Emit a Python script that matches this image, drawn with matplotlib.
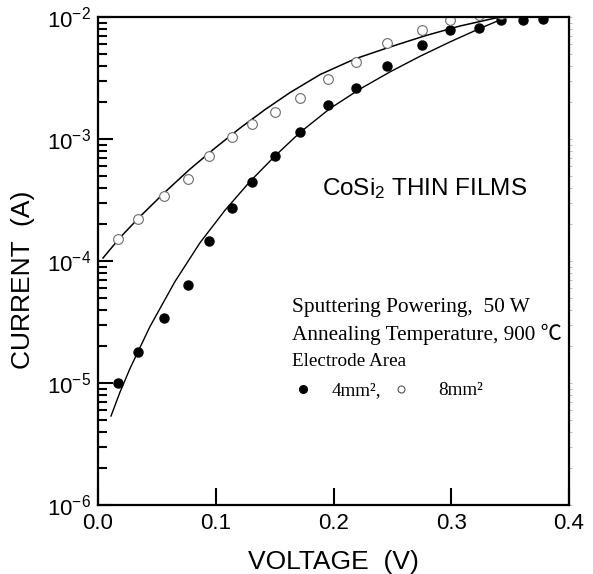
import matplotlib
matplotlib.use("Agg")
import matplotlib.pyplot as plt
from matplotlib.ticker import LogLocator, FixedLocator, NullFormatter, LogFormatterSciNotation

plt.rcParams['font.family'] = ['Liberation Sans', 'DejaVu Sans']
plt.rcParams['mathtext.fontset'] = 'custom'
plt.rcParams['mathtext.rm'] = 'Liberation Sans'
plt.rcParams['mathtext.it'] = 'Liberation Sans:italic'
plt.rcParams['mathtext.bf'] = 'Liberation Sans:bold'

# Measured I-V points (V in volts, I in amperes)
voltage = [0.0167, 0.0337, 0.0563, 0.0767, 0.0946, 0.114, 0.131, 0.1506, 0.1716,
           0.1956, 0.2188, 0.2452, 0.2749, 0.299, 0.3236, 0.342, 0.3607, 0.3777]
current_4mm2 = [1.0e-5, 1.79e-5, 3.4e-5, 6.4e-5, 1.45e-4, 2.7e-4, 4.45e-4, 7.2e-4, 1.15e-3,
                1.9e-3, 2.6e-3, 4.0e-3, 5.9e-3, 7.8e-3, 8.2e-3, 9.5e-3, 9.5e-3, 9.7e-3]
voltage_8mm2 = voltage[:16]
current_8mm2 = [1.51e-4, 2.2e-4, 3.4e-4, 4.7e-4, 7.3e-4, 1.03e-3, 1.33e-3, 1.66e-3, 2.15e-3,
                3.1e-3, 4.3e-3, 6.15e-3, 7.8e-3, 9.4e-3, 1.04e-2, 1.05e-2]

# Fitted curves
fit_v_4mm2 = [0.01104, 0.01868, 0.02718, 0.04416, 0.06539, 0.08662, 0.10786, 0.12909,
              0.15032, 0.17155, 0.19703, 0.22251, 0.24798, 0.27346, 0.29894, 0.32442, 0.34735]
fit_i_4mm2 = [5.36e-6, 8.42e-6, 1.315e-5, 2.904e-5, 6.79e-5, 1.411e-4, 2.606e-4, 4.484e-4,
              7.255e-4, 1.131e-3, 1.778e-3, 2.569e-3, 3.548e-3, 4.763e-3, 6.25e-3, 8.065e-3, 1.0e-2]
fit_v_8mm2 = [0.00425, 0.01868, 0.03567, 0.0569, 0.07813, 0.09936, 0.12059, 0.14183,
              0.16306, 0.18854, 0.21826, 0.24798, 0.27771, 0.30743, 0.3414]
fit_i_8mm2 = [1.058e-4, 1.555e-4, 2.312e-4, 3.671e-4, 5.665e-4, 8.423e-4, 1.228e-3, 1.742e-3,
              2.401e-3, 3.372e-3, 4.539e-3, 5.677e-3, 7.013e-3, 8.437e-3, 1.0e-2]

x_ticks = [0.0, 0.1, 0.2, 0.3, 0.4]
x_tick_labels = ['0.0', '0.1', '0.2', '0.3', '0.4']

fig = plt.figure(figsize=(5.93, 5.74), dpi=100)
ax = fig.add_axes([98 / 593, 69 / 574, 471 / 593, 488 / 574])

ax.plot(fit_v_4mm2, fit_i_4mm2, color='black', lw=1.0, solid_joinstyle='round')
ax.plot(fit_v_8mm2, fit_i_8mm2, color='black', lw=1.1, solid_joinstyle='round')
ax.plot(voltage, current_4mm2, 'o', color='black', ms=6.5, mec='black')
ax.plot(voltage_8mm2, current_8mm2, 'o', mfc='white', mec='#6a6a6a', mew=0.8, ms=7)

ax.set_yscale('log')
ax.set_xlim(0, 0.4)
ax.set_ylim(1e-6, 1e-2)

ax.xaxis.set_major_locator(FixedLocator(x_ticks))
ax.set_xticklabels(x_tick_labels)
ax.yaxis.set_major_locator(LogLocator(base=10, numticks=10))
ax.yaxis.set_minor_locator(LogLocator(base=10, subs=range(2, 10), numticks=20))
ax.yaxis.set_major_formatter(LogFormatterSciNotation())
ax.yaxis.set_minor_formatter(NullFormatter())

ax.tick_params(axis='x', which='major', direction='in', length=12, width=1.5,
               labelsize=16, pad=6, top=False)
ax.tick_params(axis='y', which='major', direction='in', length=11, width=1.5,
               labelsize=16, pad=5, right=False)
ax.tick_params(axis='y', which='minor', direction='in', length=6.5, width=1.5, right=False)

for s in ax.spines.values():
    s.set_linewidth(1.6)

# faint outward ticks along the right frame
sec = ax.secondary_yaxis('right')
sec.tick_params(which='both', direction='out', length=2, width=0.6, color='#b0b0b0',
                labelright=False)
sec.yaxis.set_minor_locator(LogLocator(base=10, subs=range(2, 10), numticks=20))
sec.yaxis.set_minor_formatter(NullFormatter())
sec.spines['right'].set_visible(False)

ax.set_xlabel('VOLTAGE  (V)', fontsize=19)
ax.set_ylabel('CURRENT  (A)', fontsize=19)
ax.xaxis.set_label_coords(0.5, -0.092)
ax.yaxis.set_label_coords(-0.134, 0.461)

ax.text(0.4756, 0.635, r'CoSi$_\mathregular{2}$ THIN FILMS', transform=ax.transAxes,
        fontsize=17.5, va='baseline', ha='left')

serif = ['Liberation Serif', 'Noto Sans CJK SC']
ax.text(0.412, 0.396, 'Sputtering Powering,  50 W', transform=ax.transAxes,
        fontsize=15.3, family=serif, va='baseline')
ax.text(0.412, 0.338, 'Annealing Temperature, 900 \u2103', transform=ax.transAxes,
        fontsize=15.3, family=serif, va='baseline')
ax.text(0.412, 0.285, 'Electrode Area', transform=ax.transAxes,
        fontsize=13.8, family=serif, va='baseline')
ax.plot([0.4346], [0.238], 'o', color='black', ms=5.5, transform=ax.transAxes, clip_on=False)
ax.plot([0.643], [0.238], 'o', mfc='white', mec='#555555', mew=0.8, ms=5.0,
        transform=ax.transAxes, clip_on=False)
ax.text(0.496, 0.225, '4mm\u00b2,', transform=ax.transAxes,
        fontsize=13.8, family=serif, va='baseline')
ax.text(0.722, 0.225, '8mm\u00b2', transform=ax.transAxes,
        fontsize=13.8, family=serif, va='baseline')

fig.savefig('out.png', dpi=100)
